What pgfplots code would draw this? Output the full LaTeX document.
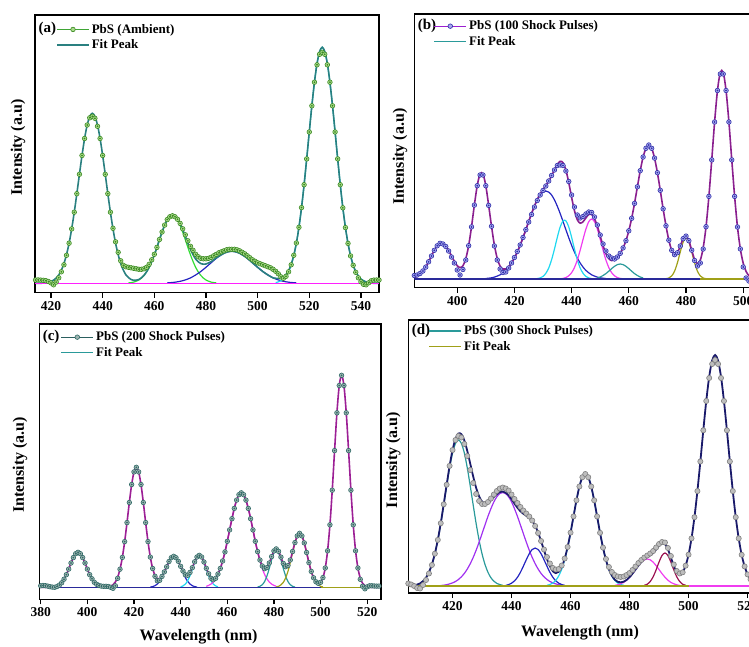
\documentclass[border=0pt]{standalone}
\usepackage{fontspec}
\setmainfont{Liberation Serif}
\usepackage{pgfplots}
\usepackage{pgfplotstable}
\pgfplotsset{compat=1.18}

\definecolor{aMk}{HTML}{3A8A22}
\definecolor{aMkF}{HTML}{A9D98A}
\definecolor{aLine}{HTML}{3FA535}
\definecolor{aFit}{HTML}{2A8080}
\definecolor{bMk}{HTML}{2E2EA8}
\definecolor{bMkF}{HTML}{A6A6EE}
\definecolor{bLine}{HTML}{9B1FD0}
\definecolor{bFit}{HTML}{8A1F8F}
\definecolor{cMk}{HTML}{2F6A66}
\definecolor{cMkF}{HTML}{9DB3B0}
\definecolor{cLine}{HTML}{2B5F5F}
\definecolor{cFit}{HTML}{9C1F95}
\definecolor{dMk}{HTML}{808080}
\definecolor{dMkF}{HTML}{BDBDBD}
\definecolor{dFit}{HTML}{1A1A6A}
\definecolor{kGreen}{HTML}{33DD33}
\definecolor{kBlue}{HTML}{2424C0}
\definecolor{kCyan}{HTML}{20D8F0}
\definecolor{kMag}{HTML}{F03CF0}
\definecolor{kOlive}{HTML}{A0A018}
\definecolor{kTeal}{HTML}{2A9A9A}
\definecolor{kNavy}{HTML}{2A2A9A}
\definecolor{kViolet}{HTML}{A030F0}
\definecolor{kPlum}{HTML}{9A1050}
\definecolor{kPink}{HTML}{FF20FF}

\newcommand{\legfont}{\bfseries\fontsize{13}{14}\selectfont}
\newcommand{\tagfont}{\bfseries\fontsize{15}{16}\selectfont}
\newcommand{\labfont}{\bfseries\fontsize{16}{18}\selectfont}

\pgfplotsset{
  panel/.style={
    scale only axis,
    anchor=south west,
    axis line style={line width=1.6pt, black},
    ytick=\empty,
    xtick pos=left,
    tick align=outside,
    major tick length=5pt,
    tick style={black, line width=1.3pt},
    ticklabel style={font=\bfseries\fontsize{13.5}{15}\selectfont},
    /pgf/number format/assume math mode=true,
    ylabel={Intensity (a.u)},
    legend image code/.code={\draw[mark repeat=2,mark phase=2,##1] plot coordinates {(0pt,0pt) (16pt,0pt) (32pt,0pt)};},
    legend style={draw=none, fill=none, at={(axis description cs:0,1)}, anchor=north west,
      font=\legfont, inner sep=0pt, row sep=1pt,
      /tikz/every even column/.append style={column sep=4pt}},
    legend cell align=left,
    clip=true,
  },
  comp/.style={smooth, no markers, line width=1.2pt, forget plot},
}

\pgfplotstableread{
x f d
414 0 3.3
415 0 3.4
416 0 3.2
417 0.2 3.0
418 0.5 2.6
419 1.0 1.8
420 1.8 0.4
421 3.1 -1.5
422 5.3 1.2
423 8.3 5.5
424 13.1 11.5
425 19.7 18.5
426 28.7 28.0
427 40.1 40.1
428 54.4 54.4
429 71.1 71.1
430 89.6 89.6
431 109.0 109.0
432 127.8 127.8
433 144.8 144.8
434 158.3 158.3
435 166.9 165.5
436 170.0 167.0
437 166.9 165.0
438 158.3 157.0
439 144.8 144.8
440 127.8 127.8
441 109.0 109.0
442 89.6 89.6
443 71.1 71.1
444 54.4 55.0
445 40.1 41.5
446 28.7 31.0
447 19.7 22.5
448 13.2 18.0
449 8.5 16.5
450 5.7 16.0
451 3.8 15.5
452 3.0 15.0
453 3.1 14.5
454 3.8 14.0
455 5.5 14.0
456 7.9 14.5
457 11.5 16.0
458 16.0 19.0
459 21.8 23.5
460 28.4 29.0
461 35.9 35.9
462 43.8 43.8
463 51.3 51.3
464 58.2 58.2
465 63.7 63.7
466 67.4 66.5
467 68.8 67.5
468 67.9 66.5
469 64.8 64.0
470 59.9 59.9
471 53.7 54.5
472 47.0 48.5
473 40.1 42.5
474 33.8 37.0
475 28.6 33.0
476 24.3 29.0
477 21.5 26.5
478 19.7 25.0
479 19.1 24.5
480 19.3 24.5
481 20.4 25.0
482 21.7 26.0
483 23.5 27.5
484 25.4 29.0
485 27.1 30.5
486 28.6 31.5
487 30.1 32.5
488 31.1 33.5
489 31.8 34.0
490 32.0 34.0
491 31.8 34.0
492 31.1 33.5
493 30.1 32.5
494 28.6 31.0
495 26.9 29.5
496 25.0 27.5
497 22.8 25.5
498 20.5 23.5
499 18.3 22.0
500 16.0 20.5
501 13.9 19.5
502 11.8 18.5
503 10.0 17.5
504 8.3 16.5
505 6.8 15.5
506 5.4 14.0
507 5.0 12.0
508 4.8 9.5
509 5.1 6.5
510 6.2 5.0
511 8.8 7.0
512 12.7 11.5
513 19.0 18.5
514 28.0 28.0
515 40.3 40.3
516 56.0 56.0
517 75.7 75.7
518 98.6 98.6
519 124.4 124.4
520 151.3 151.3
521 177.5 177.5
522 201.1 201.1
523 219.7 218.5
524 231.8 229.0
525 236.0 231.0
526 231.8 229.0
527 219.7 218.5
528 201.1 201.1
529 177.5 177.5
530 151.3 151.3
531 124.4 124.4
532 98.6 98.6
533 75.5 75.5
534 55.7 55.7
535 39.9 39.9
536 27.4 27.4
537 18.2 18.0
538 11.6 11.0
539 7.3 5.5
540 4.2 1.5
541 2.5 -1.0
542 1.4 -1.5
543 0.7 0.5
544 0.4 2.5
545 0 3.2
546 0 3.3
547 0 3.3
}\tA

\pgfplotstableread{
x f d
385 1.3 3.5
386 2.6 4.0
387 4.6 5.5
388 7.7 8.0
389 11.9 11.9
390 17.2 17.2
391 23.0 23.0
392 28.7 28.7
393 33.2 33.2
394 35.7 35.7
395 35.7 35.0
396 33.2 32.5
397 28.7 28.0
398 23.0 22.0
399 17.7 16.0
400 13.3 9.0
401 11.5 4.0
402 13.2 9.5
403 20.3 19.0
404 33.3 33.3
405 52.1 52.1
406 73.9 73.9
407 93.3 93.3
408 105.0 104.0
409 105.0 104.0
410 93.3 93.3
411 73.6 73.6
412 52.7 52.7
413 33.9 33.0
414 20.6 19.0
415 12.8 10.0
416 10.0 6.5
417 10.0 7.0
418 12.4 11.0
419 16.0 16.0
420 21.0 21.5
421 26.9 27.5
422 33.7 34.0
423 41.3 41.5
424 49.3 49.3
425 57.5 57.0
426 65.5 64.5
427 72.9 72.0
428 79.5 78.5
429 85.1 84.0
430 89.5 88.5
431 93.7 93.0
432 97.9 98.0
433 103.2 103.5
434 109.0 109.0
435 114.5 113.5
436 117.7 114.0
437 116.3 113.5
438 108.9 108.0
439 96.5 97.5
440 81.7 84.0
441 68.3 72.0
442 59.2 64.0
443 55.8 61.0
444 57.3 62.5
445 61.1 65.0
446 64.6 67.0
447 64.6 66.5
448 60.3 62.0
449 52.9 54.0
450 42.9 44.0
451 33.3 35.0
452 25.3 28.0
453 20.4 23.0
454 18.4 21.0
455 19.2 20.0
456 21.7 22.0
457 25.7 25.7
458 31.1 31.1
459 38.3 38.3
460 48.2 48.2
461 60.7 60.7
462 75.6 75.6
463 92.2 92.2
464 108.3 108.3
465 122.0 122.0
466 130.7 130.7
467 134.0 134.0
468 130.7 130.7
469 120.9 120.9
470 106.3 106.3
471 88.7 88.7
472 70.2 70.2
473 53.2 53.2
474 38.8 38.8
475 28.7 28.7
476 24.3 24.3
477 26.3 26.3
478 33.0 33.0
479 40.3 40.3
480 42.9 42.9
481 38.3 38.3
482 28.8 28.8
483 19.5 18.5
484 15.4 13.0
485 18.9 16.0
486 31.1 30.0
487 52.3 52.3
488 82.6 82.6
489 119.1 119.1
490 157.0 157.0
491 188.5 188.5
492 206.7 205.0
493 206.7 205.0
494 188.5 188.5
495 157.0 157.0
496 119.1 119.1
497 82.6 82.6
498 52.0 52.0
499 30.1 30.1
500 15.8 12.0
501 7.6 1.0
502 3.3 -2.0
503 1.3 -1.5
504 0.5 -1.0
505 0 -0.5
}\tB

\pgfplotstableread{
x f d
380 0 1.5
381 0 1.8
382 0 1.6
383 0 1.2
384 0.1 0.6
385 0.3 0.2
386 0.6 0.0
387 1.3 0.8
388 2.6 2.2
389 4.7 4.5
390 8.1 8.1
391 12.6 12.6
392 18.2 18.2
393 24.3 24.3
394 29.7 29.7
395 33.6 33.6
396 35.0 35.0
397 33.6 33.6
398 29.7 29.7
399 24.3 24.3
400 18.2 18.2
401 12.6 12.6
402 8.1 8.5
403 4.7 5.0
404 2.6 3.0
405 1.3 1.8
406 0.6 1.2
407 0.3 1.0
408 0.3 1.0
409 0.5 0.8
410 1.1 0.0
411 2.5 -1.0
412 5.3 1.5
413 10.2 9.0
414 18.1 18.1
415 29.9 29.9
416 45.7 45.7
417 64.7 64.7
418 84.8 84.8
419 102.8 102.8
420 115.4 115.4
421 120.0 120.0
422 115.4 115.4
423 102.8 102.8
424 84.8 84.8
425 64.7 64.7
426 45.7 45.7
427 30.2 30.2
428 18.8 18.8
429 11.8 11.0
430 8.6 6.5
431 8.5 7.0
432 10.9 10.9
433 15.4 15.4
434 20.5 20.5
435 25.8 25.8
436 29.6 29.6
437 31.0 31.0
438 29.6 29.6
439 26.0 26.0
440 21.0 21.0
441 16.3 16.3
442 13.0 12.5
443 12.5 12.0
444 14.9 14.9
445 19.6 19.6
446 25.5 25.5
447 30.3 30.3
448 32.0 32.0
449 30.3 30.3
450 25.3 25.3
451 19.0 19.0
452 13.5 13.5
453 9.7 9.0
454 8.5 7.5
455 9.8 9.0
456 13.3 13.3
457 18.9 18.9
458 26.3 26.3
459 35.4 35.4
460 46.0 46.0
461 57.4 57.4
462 68.6 68.6
463 78.9 78.9
464 87.2 87.2
465 92.6 92.6
466 94.5 94.5
467 92.6 92.6
468 87.2 87.2
469 78.9 78.9
470 68.6 68.6
471 57.4 57.4
472 46.0 46.0
473 35.7 35.7
474 27.3 27.3
475 21.3 21.3
476 18.6 18.6
477 19.7 19.7
478 24.3 24.3
479 30.7 30.7
480 36.4 36.4
481 38.4 38.4
482 35.9 35.9
483 30.2 30.2
484 23.9 23.9
485 20.6 20.6
486 21.7 21.7
487 27.3 27.3
488 35.8 35.8
489 44.7 44.7
490 51.4 51.4
491 54.0 54.0
492 51.4 51.4
493 44.4 44.4
494 34.8 34.8
495 24.7 24.7
496 15.9 15.9
497 9.5 9.5
498 5.5 5.5
499 4.0 4.0
500 5.0 5.0
501 9.7 9.7
502 19.3 19.3
503 36.5 36.5
504 62.5 62.5
505 97.1 97.1
506 136.7 136.7
507 174.5 174.5
508 201.8 201.8
509 212.0 212.0
510 201.8 201.8
511 174.5 174.5
512 136.7 136.7
513 97.1 97.1
514 62.5 62.5
515 36.5 36.5
516 19.3 19.3
517 9.3 8.0
518 4.0 1.0
519 1.6 -1.5
520 0.6 0.5
521 0 1.5
522 0 1.5
523 0 1.3
524 0 1.2
525 0 1.2
}\tC

\pgfplotstableread{
x f d
405 0.2 2.5
406 0.3 1.5
407 0.7 0.0
408 1.4 -2.0
409 2.6 -2.5
410 4.8 1.0
411 8.3 6.0
412 13.8 12.5
413 21.6 21.0
414 32.3 32.3
415 46.1 46.1
416 62.8 62.8
417 81.7 81.7
418 101.3 101.3
419 120.1 120.1
420 136.0 136.0
421 147.1 146.0
422 152.5 150.0
423 151.8 148.5
424 145.5 142.0
425 135.0 130.0
426 122.3 116.0
427 109.5 103.0
428 98.1 92.0
429 89.7 85.0
430 84.5 82.0
431 82.6 82.0
432 83.3 84.0
433 85.6 87.5
434 88.9 91.5
435 91.8 95.0
436 93.9 97.5
437 94.5 98.5
438 93.3 97.5
439 90.8 95.5
440 86.9 91.5
441 82.4 87.0
442 78.3 83.0
443 74.8 79.0
444 72.2 75.5
445 70.2 72.5
446 68.1 69.5
447 65.1 65.5
448 60.3 60.0
449 53.5 53.0
450 45.0 45.0
451 35.8 36.5
452 27.0 29.0
453 19.7 22.5
454 14.8 18.0
455 12.9 16.5
456 14.2 17.0
457 18.9 20.5
458 27.2 27.5
459 39.0 39.0
460 53.4 53.4
461 69.6 69.6
462 85.7 85.7
463 99.5 99.5
464 108.8 108.8
465 112.0 112.0
466 108.8 108.8
467 99.5 99.5
468 85.7 85.7
469 69.6 69.6
470 53.2 53.2
471 38.4 38.4
472 26.1 27.0
473 16.7 19.0
474 10.4 14.0
475 6.3 11.0
476 4.2 9.5
477 3.7 9.0
478 4.3 9.5
479 6.1 11.0
480 8.8 13.0
481 12.4 16.0
482 16.4 19.5
483 20.4 23.0
484 24.0 26.0
485 26.9 28.5
486 28.8 30.5
487 30.7 32.5
488 33.0 35.0
489 36.5 38.5
490 40.4 42.0
491 42.9 44.0
492 42.0 43.5
493 36.7 38.0
494 28.5 30.0
495 20.1 21.5
496 13.9 15.0
497 11.8 12.5
498 13.7 13.7
499 20.3 20.3
500 31.4 31.4
501 47.6 47.6
502 68.8 68.8
503 94.9 94.9
504 124.5 124.5
505 155.7 155.7
506 185.0 185.0
507 209.3 208.0
508 225.5 222.0
509 231.0 226.0
510 225.5 222.0
511 209.3 208.0
512 185.0 185.0
513 155.7 155.7
514 124.5 124.5
515 94.9 94.9
516 68.8 68.8
517 47.6 47.6
518 31.2 31.2
519 19.6 19.6
520 11.6 11.6
521 6.7 6.7
522 3.5 3.5
523 1.8 1.8
524 0.9 0.9
525 0.4 0.4
}\tD

\begin{document}
\begin{tikzpicture}
\useasboundingbox (0,0) rectangle (749pt,646pt);
\begin{scope}
\clip (0,0) rectangle (749pt,646pt);

% ---------------- (a) ----------------
\begin{axis}[panel,
  at={(35pt,353.3pt)}, width=344pt, height=277.7pt,
  xmin=413.8, xmax=547, ymin=-9.4, ymax=268.3,
  xtick={420,440,...,540},
  ylabel style={at={(axis description cs:0,0.523)}, anchor=center, yshift=17pt, font=\labfont},
  legend style={xshift=21pt, yshift=-7pt},
]
\addlegendimage{line width=1.3pt, color=aLine, mark=*, mark size=2.3pt, mark options={draw=aMk, fill=aMkF, line width=0.6pt}}
\addlegendentry{PbS (Ambient)}
\addlegendimage{line width=1.6pt, color=aFit}
\addlegendentry{Fit Peak}
\addplot[comp, color=kGreen] coordinates {(450,0.4) (451,0.7) (452,1.2) (453,2.1) (454,3.3) (455,5.2) (456,7.9) (457,11.5) (458,16.0) (459,21.8) (460,28.4) (461,35.8) (462,43.6) (463,51.1) (464,57.9) (465,63.3) (466,66.8) (467,68) (468,66.8) (469,63.3) (470,57.9) (471,51.1) (472,43.6) (473,35.8) (474,28.4) (475,21.8) (476,16.0) (477,11.5) (478,7.9) (479,5.2) (480,3.3) (481,2.1) (482,1.2) (483,0.7) (484,0.4)};
\addplot[comp, color=kBlue] coordinates {(465,0.4) (466,0.6) (467,0.8) (468,1.1) (469,1.5) (470,2.0) (471,2.6) (472,3.4) (473,4.3) (474,5.4) (475,6.8) (476,8.3) (477,10.0) (478,11.8) (479,13.9) (480,16.0) (481,18.3) (482,20.5) (483,22.8) (484,25.0) (485,26.9) (486,28.6) (487,30.1) (488,31.1) (489,31.8) (490,32) (491,31.8) (492,31.1) (493,30.1) (494,28.6) (495,26.9) (496,25.0) (497,22.8) (498,20.5) (499,18.3) (500,16.0) (501,13.9) (502,11.8) (503,10.0) (504,8.3) (505,6.8) (506,5.4) (507,4.3) (508,3.4) (509,2.6) (510,2.0) (511,1.5) (512,1.1) (513,0.8) (514,0.6) (515,0.4)};
\addplot[comp, color=kCyan] coordinates {(507,0.7) (509,2.5) (511,7.3) (513,18.2) (515,39.9) (517,75.5) (519,124.4) (521,177.5) (523,219.7) (525,236) (527,219.7) (529,177.5) (531,124.4) (533,75.5) (535,39.9) (537,18.2) (539,7.3) (541,2.5) (543,0.7)};
\addplot[smooth, no markers, line width=1.6pt, color=aFit, forget plot] table[x=x, y=f] {\tA};
\addplot[no markers, line width=1.3pt, color=kPink, forget plot] coordinates {(413.8,0) (547,0)};
\addplot[only marks, mark=*, mark size=2.3pt, mark options={draw=aMk, fill=aMkF, line width=0.6pt}, forget plot] table[x=x, y=d] {\tA};
\addplot[only marks, mark=*, mark size=0.6pt, color=aMk, forget plot] table[x=x, y=d] {\tA};
\node[anchor=west, font=\tagfont, xshift=0pt, yshift=-14pt] at (rel axis cs:0,1) {(a)};
\end{axis}

% ---------------- (b) ----------------
\begin{axis}[panel,
  at={(414.3pt,358.3pt)}, width=343.2pt, height=273.7pt,
  xmin=385, xmax=505, ymin=-8.7, ymax=265,
  xtick={400,420,...,500},
  ylabel style={at={(axis description cs:0,0.479)}, anchor=center, yshift=14.3pt, font=\labfont},
  legend style={xshift=19pt, yshift=-4.7pt},
]
\addlegendimage{line width=1.3pt, color=bLine, mark=*, mark size=2.3pt, mark options={draw=bMk, fill=bMkF, line width=0.6pt}}
\addlegendentry{PbS (100 Shock Pulses)}
\addlegendimage{line width=1.6pt, color=kTeal}
\addlegendentry{Fit Peak}
\addplot[comp, color=kBlue] coordinates {(410,0.5) (411,0.8) (412,1.2) (413,1.9) (414,2.9) (415,4.2) (416,6.2) (417,8.6) (418,11.9) (419,16.0) (420,21.0) (421,26.9) (422,33.7) (423,41.3) (424,49.3) (425,57.5) (426,65.5) (427,72.8) (428,79.1) (429,84.0) (430,86.9) (431,88) (432,86.9) (433,84.0) (434,79.1) (435,72.8) (436,65.5) (437,57.5) (438,49.3) (439,41.3) (440,33.7) (441,26.9) (442,21.0) (443,16.0) (444,11.9) (445,8.6) (446,6.2) (447,4.2) (448,2.9) (449,1.9) (450,1.2) (451,0.8) (452,0.5)};
\addplot[comp, color=kCyan] coordinates {(428,0.4) (429,1.1) (430,2.6) (431,5.7) (432,11.0) (433,19.2) (434,29.9) (435,41.7) (436,52.0) (437,58.2) (438,58.2) (439,52.0) (440,41.7) (441,29.9) (442,19.2) (443,11.0) (444,5.7) (445,2.6) (446,1.1) (447,0.4)};
\addplot[comp, color=kMag] coordinates {(436,0.2) (437,0.6) (438,1.4) (439,3.2) (440,6.3) (441,11.5) (442,19.0) (443,28.8) (444,39.7) (445,49.9) (446,57.3) (447,60) (448,57.3) (449,49.9) (450,39.7) (451,28.8) (452,19.0) (453,11.5) (454,6.3) (455,3.2) (456,1.4) (457,0.6) (458,0.2)};
\addplot[comp, color=kTeal] coordinates {(449,1.1) (450,2.0) (451,3.5) (452,5.4) (453,7.8) (454,10.4) (455,12.7) (456,14.4) (457,15) (458,14.4) (459,12.7) (460,10.4) (461,7.8) (462,5.4) (463,3.5) (464,2.0) (465,1.1)};
\addplot[comp, color=kOlive] coordinates {(473,0.3) (474,1.0) (475,3.1) (476,7.8) (477,16.2) (478,27.1) (479,37.0) (480,41) (481,37.0) (482,27.1) (483,16.2) (484,7.8) (485,3.1) (486,1.0) (487,0.3)};
\addplot[smooth, no markers, line width=1.6pt, color=bFit, forget plot] table[x=x, y=f] {\tB};
\addplot[no markers, line width=1.3pt, color=kNavy, forget plot] coordinates {(385,0) (485,0)};
\addplot[no markers, line width=1.3pt, color=kOlive, forget plot] coordinates {(485,0) (505,0)};
\addplot[only marks, mark=*, mark size=2.3pt, mark options={draw=bMk, fill=bMkF, line width=0.6pt}, forget plot] table[x=x, y=d] {\tB};
\addplot[only marks, mark=*, mark size=0.6pt, color=bMk, forget plot] table[x=x, y=d] {\tB};
\node[anchor=west, font=\tagfont, xshift=0pt, yshift=-11.7pt] at (rel axis cs:0,1) {(b)};
\end{axis}

% ---------------- (c) ----------------
\begin{axis}[panel,
  at={(39.3pt,46.7pt)}, width=341.7pt, height=275.3pt,
  xmin=379.4, xmax=525.9, ymin=-12, ymax=263.3,
  xtick={380,400,...,520},
  xlabel={Wavelength (nm)},
  xlabel style={at={(axis description cs:0.466,0)}, anchor=center, yshift=-37pt, font=\labfont},
  ylabel style={at={(axis description cs:0,0.488)}, anchor=center, yshift=19.3pt, font=\labfont},
  legend style={xshift=21pt, yshift=-5.7pt},
]
\addlegendimage{line width=1.3pt, color=cLine, mark=*, mark size=2.3pt, mark options={draw=cMk, fill=cMkF, line width=0.6pt}}
\addlegendentry{PbS (200 Shock Pulses)}
\addlegendimage{line width=1.6pt, color=kTeal}
\addlegendentry{Fit Peak}
\addplot[comp, color=kBlue] coordinates {(427,0.3) (428,0.7) (429,1.6) (430,3.3) (431,6.0) (432,9.8) (433,14.9) (434,20.5) (435,25.8) (436,29.6) (437,31) (438,29.6) (439,25.8) (440,20.5) (441,14.9) (442,9.8) (443,6.0) (444,3.3) (445,1.6) (446,0.7) (447,0.3)};
\addplot[comp, color=kCyan] coordinates {(440,0.5) (441,1.4) (442,3.2) (443,6.5) (444,11.6) (445,18.0) (446,24.8) (447,30.0) (448,32) (449,30.0) (450,24.8) (451,18.0) (452,11.6) (453,6.5) (454,3.2) (455,1.4) (456,0.5)};
\addplot[comp, color=kMag] coordinates {(451,1.0) (452,1.9) (453,3.2) (454,5.3) (455,8.4) (456,12.8) (457,18.7) (458,26.3) (459,35.4) (460,46.0) (461,57.4) (462,68.6) (463,78.9) (464,87.2) (465,92.6) (466,94.5) (467,92.6) (468,87.2) (469,78.9) (470,68.6) (471,57.4) (472,46.0) (473,35.4) (474,26.3) (475,18.7) (476,12.8) (477,8.4) (478,5.3) (479,3.2) (480,1.9) (481,1.0)};
\addplot[comp, color=kTeal] coordinates {(473,0.3) (474,1.0) (475,2.6) (476,5.8) (477,11.3) (478,19.0) (479,27.5) (480,34.4) (481,37) (482,34.4) (483,27.5) (484,19.0) (485,11.3) (486,5.8) (487,2.6) (488,1.0) (489,0.3)};
\addplot[comp, color=kOlive] coordinates {(481,0.4) (482,1.0) (483,2.4) (484,4.9) (485,9.3) (486,15.9) (487,24.7) (488,34.8) (489,44.4) (490,51.4) (491,54) (492,51.4) (493,44.4) (494,34.8) (495,24.7) (496,15.9) (497,9.3) (498,4.9) (499,2.4) (500,1.0) (501,0.4)};
\addplot[smooth, no markers, line width=1.6pt, color=cFit, forget plot] table[x=x, y=f] {\tC};
\addplot[no markers, line width=1.3pt, color=kNavy, forget plot] coordinates {(379.4,0) (500,0)};
\addplot[no markers, line width=1.3pt, color=kOlive, forget plot] coordinates {(500,0) (518,0)};
\addplot[no markers, line width=1.3pt, color=kNavy, forget plot] coordinates {(518,0) (525.9,0)};
\addplot[only marks, mark=*, mark size=2.3pt, mark options={draw=cMk, fill=cMkF, line width=0.6pt}, forget plot] table[x=x, y=d] {\tC};
\addplot[only marks, mark=*, mark size=0.6pt, color=cMk, forget plot] table[x=x, y=d] {\tC};
\node[anchor=west, font=\tagfont, xshift=0pt, yshift=-12.7pt] at (rel axis cs:0,1) {(c)};
\end{axis}

% ---------------- (d) ----------------
\begin{axis}[panel,
  at={(408.3pt,53pt)}, width=354pt, height=273pt,
  xmin=405, xmax=525, ymin=-7, ymax=266,
  xtick={420,440,...,520},
  xlabel={Wavelength (nm)},
  xlabel style={at={(axis description cs:0.485,0)}, anchor=center, yshift=-40pt, font=\labfont},
  ylabel style={at={(axis description cs:0,0.487)}, anchor=center, yshift=15pt, font=\labfont},
  legend style={xshift=20pt, yshift=-3.7pt},
]
\addlegendimage{line width=1.6pt, color=kTeal}
\addlegendentry{PbS (300 Shock Pulses)}
\addlegendimage{line width=1.6pt, color=kOlive}
\addlegendentry{Fit Peak}
\addplot[comp, color=kTeal] coordinates {(407,0.7) (408,1.4) (409,2.6) (410,4.8) (411,8.3) (412,13.7) (413,21.5) (414,32.1) (415,45.8) (416,62.3) (417,80.9) (418,100.0) (419,118.0) (420,132.9) (421,142.6) (422,146) (423,142.6) (424,132.9) (425,118.0) (426,100.0) (427,80.9) (428,62.3) (429,45.8) (430,32.1) (431,21.5) (432,13.7) (433,8.3) (434,4.8) (435,2.6) (436,1.4) (437,0.7)};
\addplot[comp, color=kViolet] coordinates {(416,0.5) (417,0.8) (418,1.3) (419,2.1) (420,3.1) (421,4.5) (422,6.5) (423,9.2) (424,12.6) (425,17.0) (426,22.3) (427,28.6) (428,35.8) (429,43.9) (430,52.4) (431,61.1) (432,69.6) (433,77.3) (434,84.1) (435,89.2) (436,92.4) (437,93.5) (438,92.4) (439,89.2) (440,84.1) (441,77.3) (442,69.6) (443,61.1) (444,52.4) (445,43.9) (446,35.8) (447,28.6) (448,22.3) (449,17.0) (450,12.6) (451,9.2) (452,6.5) (453,4.5) (454,3.1) (455,2.1) (456,1.3) (457,0.8) (458,0.5)};
\addplot[comp, color=kBlue] coordinates {(438,0.6) (439,1.4) (440,2.8) (441,5.1) (442,8.7) (443,13.7) (444,19.8) (445,26.3) (446,32.3) (447,36.5) (448,38) (449,36.5) (450,32.3) (451,26.3) (452,19.8) (453,13.7) (454,8.7) (455,5.1) (456,2.8) (457,1.4) (458,0.6)};
\addplot[comp, color=kCyan] coordinates {(452,0.7) (453,1.5) (454,3.0) (455,5.7) (456,10.1) (457,16.7) (458,26.1) (459,38.4) (460,53.2) (461,69.6) (462,85.7) (463,99.5) (464,108.8) (465,112) (466,108.8) (467,99.5) (468,85.7) (469,69.6) (470,53.2) (471,38.4) (472,26.1) (473,16.7) (474,10.1) (475,5.7) (476,3.0) (477,1.5) (478,0.7)};
\addplot[comp, color=kMag] coordinates {(475,0.6) (476,1.2) (477,2.2) (478,3.6) (479,5.8) (480,8.8) (481,12.4) (482,16.4) (483,20.4) (484,23.8) (485,26.2) (486,27) (487,26.2) (488,23.8) (489,20.4) (490,16.4) (491,12.4) (492,8.8) (493,5.8) (494,3.6) (495,2.2) (496,1.2) (497,0.6)};
\addplot[comp, color=kPlum] coordinates {(485,0.7) (486,1.8) (487,4.5) (488,9.2) (489,16.1) (490,24.0) (491,30.5) (492,33) (493,30.5) (494,24.0) (495,16.1) (496,9.2) (497,4.5) (498,1.8) (499,0.7)};
\addplot[no markers, line width=1.3pt, color=kOlive, forget plot] coordinates {(405,0) (500,0)};
\addplot[no markers, line width=1.3pt, color=kMag, forget plot] coordinates {(500,0) (525,0)};
\addplot[only marks, mark=*, mark size=2.6pt, mark options={draw=dMk, fill=dMkF, line width=0.6pt}, forget plot] table[x=x, y=d] {\tD};
\addplot[smooth, no markers, line width=1.8pt, color=dFit, forget plot] table[x=x, y=f] {\tD};
\node[anchor=west, font=\tagfont, xshift=0pt, yshift=-10.7pt] at (rel axis cs:0,1) {(d)};
\end{axis}
\end{scope}
\end{tikzpicture}
\end{document}
